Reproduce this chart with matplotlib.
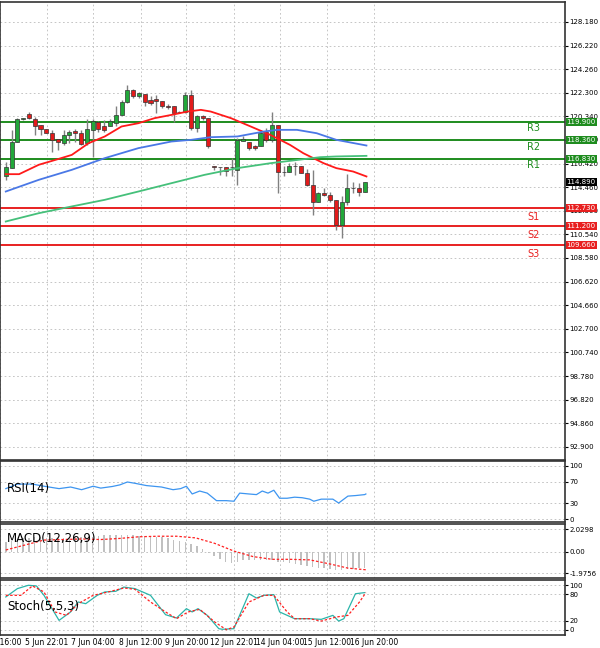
import numpy as np
import matplotlib.pyplot as plt

# candles: open, close, high, low
opens = [115.35,116.04,118.25,120.13,120.55,120.10,119.63,119.30,118.94,118.44,118.11,118.80,119.14,118.94,118.11,119.22,
         119.91,119.50,119.50,119.77,120.46,121.57,122.54,121.99,122.21,121.71,121.77,121.65,121.21,121.16,120.74,120.74,
         122.12,119.36,120.33,120.19,116.23,116.12,116.12,116.12,115.90,118.31,118.25,117.84,117.84,119.08,118.39,119.63,
         115.76,115.68,116.23,116.23,115.62,114.65,113.19,113.96,113.82,113.41,111.33,113.27,114.38,114.38,114.10]
closes = [116.12,118.25,120.10,120.16,120.19,119.55,119.30,118.94,118.39,118.17,118.80,119.08,118.94,118.06,119.27,119.97,
          119.30,119.22,119.97,120.46,121.57,122.54,121.99,122.26,121.57,121.49,121.65,121.16,121.10,120.60,120.69,122.12,
          119.36,120.33,120.24,117.84,116.12,116.12,115.84,116.10,118.39,118.44,117.70,117.70,118.94,118.39,119.63,115.68,
          115.68,116.18,116.20,115.62,114.65,113.19,113.96,113.82,113.41,111.33,113.27,114.38,114.40,114.10,114.89]
highs = [116.59,119.22,120.19,120.24,120.69,120.27,119.63,119.30,119.22,118.44,119.22,119.22,119.30,119.22,120.10,120.10,
         119.97,120.05,120.10,121.16,121.71,122.95,122.60,122.40,122.21,122.04,122.12,121.65,121.38,121.16,120.78,122.40,
         122.54,120.46,120.46,120.19,116.23,116.12,116.12,116.87,118.53,118.67,118.25,117.97,119.22,119.36,120.74,119.63,
         116.18,116.45,116.51,116.23,115.95,115.90,114.10,114.38,114.10,113.41,113.69,115.54,114.93,114.79,114.93]
lows = [115.07,116.04,118.25,120.05,120.10,118.80,118.80,118.94,117.42,117.56,117.97,118.11,118.25,117.97,117.97,116.95,
        119.08,119.08,119.50,119.50,120.46,121.43,121.85,121.85,121.16,121.29,120.60,121.02,120.93,119.91,120.65,120.60,
        119.22,119.08,120.05,117.70,115.90,115.48,115.35,115.35,114.65,118.31,117.56,117.56,117.84,118.25,118.25,113.96,
        115.35,115.68,115.48,115.62,114.52,112.16,113.19,113.69,113.27,110.92,110.23,113.00,113.96,113.69,114.10]

# moving averages (bar, price)
ma_red_x = [0,2.3,5.7,8.6,11.4,14.3,17.1,20,22.9,25.7,28.6,31.4,33.7,35.4,38.9,42.3,45.7,49.1,51.4,54.9,57.1,60,62.3]
ma_red_y = [115.54,115.54,116.32,116.73,117.14,118.11,118.67,119.50,119.77,120.19,120.46,120.74,120.88,120.74,120.19,
            119.50,118.80,117.97,117.28,116.45,116.04,115.76,115.35]
ma_blue_x = [0,5.7,11.4,17.1,22.9,28.6,32,35.4,40,44.6,46.9,50.3,53.7,57.1,62.3]
ma_blue_y = [114.10,115.07,115.90,116.87,117.70,118.25,118.39,118.61,118.67,119.08,119.22,119.22,118.94,118.39,117.92]
ma_green_x = [0,5.7,11.4,17.1,22.9,28.6,34.3,40,45.7,51.4,54.3,57.1,62.3]
ma_green_y = [111.61,112.30,112.86,113.41,114.10,114.79,115.48,116.04,116.45,116.78,116.95,117.01,117.06]

levels = [119.90, 118.36, 116.83, 112.73, 111.20, 109.66]
level_names = ["R3", "R2", "R1", "S1", "S2", "S3"]
last_price = 114.89

rsi_x = [0,2.0,4.6,6.6,9.2,11.2,13.1,15.1,16.4,18.4,19.7,21,22.3,24.3,26.9,28.9,30.2,31.2,32.2,33.5,34.8,36.4,38.1,
         39.4,40.4,42,43.3,44.3,45.3,46.3,47.3,48.6,49.9,51.2,52.5,53.2,54.5,56.5,57.5,59.1,60.4,62,62.2]
rsi_y = [57,65.5,65.5,61.5,57,60,55,61.5,58,61,64,69.4,67,62.7,60,55,57,61.5,47,52.5,48.6,34.5,34.5,33.4,48.6,47,
         45.8,52.5,48.6,54,39,39,41,40,37.3,33.4,37.3,37.3,30,43,44,45.8,47]

macd_hist = [0.9,1.0,1.1,1.2,1.2,1.3,1.3,1.2,1.2,1.2,1.2,1.2,1.3,1.3,1.2,1.3,1.4,1.5,1.5,1.5,1.5,1.5,1.5,1.4,1.4,
             1.4,1.3,1.3,1.2,1.1,1.0,0.9,0.7,0.5,0.2,-0.1,-0.4,-0.7,-0.9,-1.0,-0.9,-0.8,-0.8,-0.8,-0.8,-0.8,-0.8,
             -0.9,-0.9,-1.0,-1.1,-1.2,-1.3,-1.4,-1.5,-1.5,-1.6,-1.7,-1.7,-1.6,-1.6,-1.5,-1.5]
macd_sig_x = [0,3.3,6.6,13.1,16.4,19.7,23,26.3,29.5,32.8,36.1,39.4,42.7,46,49.2,52.5,55.8,59.1,62.2]
macd_sig_y = [0.15,0.6,1.05,1.15,1.1,1.2,1.35,1.4,1.4,1.25,0.75,0.05,-0.45,-0.7,-0.7,-0.75,-1.1,-1.5,-1.65]

st_x = [0,2.0,3.9,5.3,6.6,9.2,11.2,12.5,13.8,15.8,17.1,19,20.4,22.3,25,27.6,29.5,31.2,32.2,33.2,34.8,36.8,37.4,
        39.4,42,43.3,44.6,46.3,47.3,49.9,52.5,54.5,56.5,57.5,58.4,60.4,62]
st_y = [73.7,92.5,100,98.5,77.4,21,40,62.4,58.6,77.4,85,86.5,96,92.5,77.4,33.8,26.3,47.4,40,47.4,32.3,2.3,1,2.3,81,
        71.4,77.4,79,40,24.8,24.8,23.3,32.3,19.5,24.8,81,83.5]
st_sig_x = [0,2.6,4.6,6.6,8.5,10.5,12.5,15.1,17.7,20.4,22.3,25,27.6,29.5,31.5,33.5,36.1,38.1,39.4,42,44.6,46.3,48.6,
            49.9,52.5,54.5,57.1,59.1,61.1,62.2]
st_sig_y = [77.4,77.4,98.5,85,40,32.3,58.6,77.4,85,94,91,62.4,40,24.8,40,45.9,17.3,0,6,62.4,77.4,77.4,40,24.8,24.8,
            19.5,28.6,32.3,62.4,83.5]

tick_pos = [-1.0,7.1,15.1,23.3,31.2,39.4,47.4,55.5,63.6]
tick_labels = ["5 Jun 16:00","5 Jun 22:01","7 Jun 04:00","8 Jun 12:00","9 Jun 20:00","12 Jun 22:01",
               "14 Jun 04:00","15 Jun 12:00","16 Jun 20:00"]

fig = plt.figure(figsize=(6, 6.48), dpi=100)
W = 565 / 600
ax = fig.add_axes([0, 0.290, W, 0.707])
ax_rsi = fig.add_axes([0, 0.194, W, 0.094])
ax_macd = fig.add_axes([0, 0.108, W, 0.084])
ax_st = fig.add_axes([0, 0.020, W, 0.085])
axes = [ax, ax_rsi, ax_macd, ax_st]
xlim = (-0.3, 96.6)

for a in axes:
    a.set_xlim(*xlim)
    a.yaxis.tick_right()
    a.tick_params(axis='y', labelsize=5, length=2, pad=1)
    a.set_xticks(tick_pos)
    a.tick_params(axis='x', length=0, labelbottom=False)
    a.grid(True, axis='both', color='#bbbbbb', linestyle=(0, (2, 3)), linewidth=0.6)
    for s in a.spines.values():
        s.set_color('#333333')
        s.set_linewidth(1.2)

# main panel
yt = [128.18 - 1.96 * k for k in range(19)]
ax.set_yticks(yt)
ax.set_yticklabels(["%.3f" % v for v in yt])
ax.set_ylim(91.8, 129.84)

x = np.arange(len(opens))
for i in x:
    o, c, h, l = opens[i], closes[i], highs[i], lows[i]
    col = '#22a83a' if c >= o else '#e21b1b'
    ax.vlines(i, l, h, color='#808080', linewidth=1, zorder=3)
    ax.bar(i, max(abs(c - o), 0.05), bottom=min(o, c), width=0.7, color=col,
           edgecolor='#333333', linewidth=0.5, zorder=4)

ax.plot(ma_red_x, ma_red_y, color='#ff1a1a', linewidth=1.3, zorder=5)
ax.plot(ma_blue_x, ma_blue_y, color='#4a78e6', linewidth=1.3, zorder=5)
ax.plot(ma_green_x, ma_green_y, color='#45c07a', linewidth=1.3, zorder=5)

tr = ax.get_yaxis_transform()
for v, name in zip(levels, level_names):
    col = '#1e8c1e' if name.startswith("R") else '#e82020'
    ax.axhline(v, color=col, linewidth=1.4, zorder=2)
    ax.text(0.945, v - 0.55 if name.startswith("R") else v - 0.75, name, transform=tr, color=col,
            fontsize=7, ha='center', va='center')
    ax.text(1.003, v, "%.3f" % v, transform=tr, fontsize=5, color='white', va='center', ha='left',
            bbox=dict(boxstyle='square,pad=0.15', fc=col, ec='none'), clip_on=False, zorder=10)
ax.text(1.003, last_price, "%.3f" % last_price, transform=tr, fontsize=5, color='white', va='center',
        ha='left', bbox=dict(boxstyle='square,pad=0.15', fc='black', ec='none'), clip_on=False, zorder=10)

# RSI
ax_rsi.plot(rsi_x, rsi_y, color='#3d95f0', linewidth=0.9)
ax_rsi.set_ylim(-6, 108)
ax_rsi.set_yticks([0, 30, 70, 100])
ax_rsi.text(0.012, 0.55, "RSI(14)", transform=ax_rsi.transAxes, fontsize=8.5, va='center')

# MACD
ax_macd.bar(np.arange(len(macd_hist)), macd_hist, width=0.25, color='#c0c0c0')
ax_macd.plot(macd_sig_x, macd_sig_y, color='#ff2020', linestyle=(0, (2, 1.5)), linewidth=0.9)
ax_macd.set_ylim(-2.4, 2.55)
ax_macd.set_yticks([2.0298, 0.0, -1.9756])
ax_macd.set_yticklabels(["2.0298", "0.00", "-1.9756"])
ax_macd.text(0.012, 0.72, "MACD(12,26,9)", transform=ax_macd.transAxes, fontsize=8.5, va='center')

# Stochastic
ax_st.plot(st_x, st_y, color='#2bb5aa', linewidth=0.9)
ax_st.plot(st_sig_x, st_sig_y, color='#ff2020', linestyle=(0, (2, 1.5)), linewidth=0.9)
ax_st.set_ylim(-12, 112)
ax_st.set_yticks([0, 20, 80, 100])
ax_st.text(0.012, 0.52, "Stoch(5,5,3)", transform=ax_st.transAxes, fontsize=8.5, va='center')
ax_st.set_xticklabels(tick_labels)
ax_st.tick_params(axis='x', labelbottom=True, labelsize=5.5, pad=2)

fig.savefig("out.png", dpi=100, facecolor='white')
